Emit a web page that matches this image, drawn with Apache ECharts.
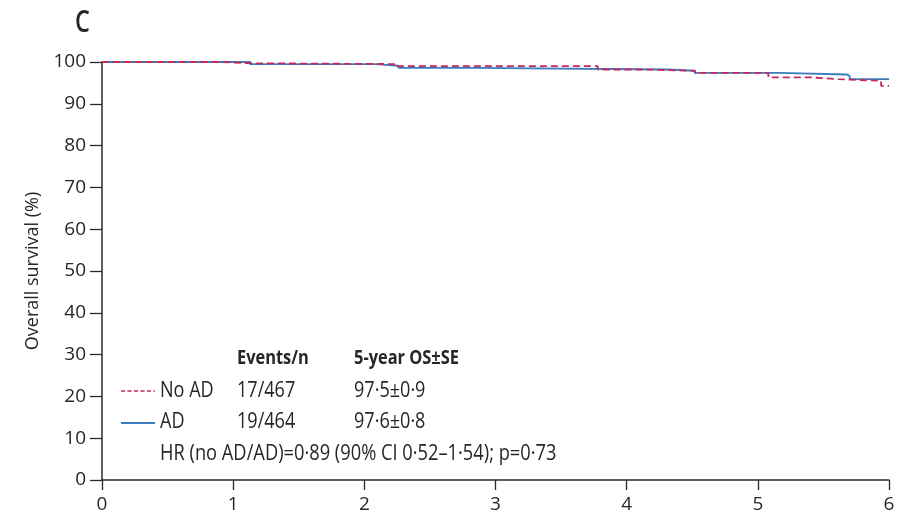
<!DOCTYPE html>
<html><head><meta charset="utf-8">
<script src="https://cdn.jsdelivr.net/npm/echarts@6/dist/echarts.min.js"></script>
<style>html,body{margin:0;padding:0;background:#fff}#c{width:898px;height:514px}</style>
</head><body><div id="c"></div>
<script>
// Kaplan-Meier step points [year, survival %]
var noAD = [[0,100],[0.92,99.7],[1.13,99.5],[2.25,99.0],[3.78,98.2],[4.15,97.9],[4.52,97.4],[5.08,96.3],[5.41,95.9],[5.61,95.5],[5.94,94.3],[6.0,94.3]];
var AD   = [[0,100],[1.13,99.5],[2.09,99.1],[2.26,98.6],[2.84,98.2],[4.31,97.9],[4.52,97.4],[5.16,97.0],[5.68,96.7],[5.70,95.9],[6.0,95.9]];
var seriesNames = ['No AD','AD'];
var xTicks = [0,1,2,3,4,5,6];
var yTicks = [0,10,20,30,40,50,60,70,80,90,100];
var tableHeader = ['Events/n','5-year OS\u00b1SE'];
var tableRows = [['No AD','17/467','97\u00b75\u00b10\u00b79'],['AD','19/464','97\u00b76\u00b10\u00b78']];
var hrText = 'HR (no AD/AD)=0\u00b789 (90% CI 0\u00b752\u20131\u00b754); p=0\u00b773';
var panelLabel = 'C';
var yAxisTitle = 'Overall survival (%)';

var FONT = '"Open Sans", sans-serif';
var TXT = '#262626';
var RED = '#c8285a', BLUE = '#3b7dbf';

var chart = echarts.init(document.getElementById('c'), null, {renderer:'canvas'});
var colX = [160, 237, 354];
var rowY = [358, 391, 422];
var g = [];
function txt(s, x, y, font, sx){
  return {type:'text', x:x, y:y, scaleX:sx, scaleY:1,
    style:{text:s, x:0, y:0, font:font, fill:TXT, textVerticalAlign:'middle'}};
}
g.push(txt(panelLabel, 75, 23, '600 30px '+FONT, 0.78));
g.push(txt(tableHeader[0], colX[1], rowY[0], 'bold 20px '+FONT, 0.82));
g.push(txt(tableHeader[1], colX[2], rowY[0], 'bold 20px '+FONT, 0.82));
tableRows.forEach(function(r, i){
  for (var j=0;j<3;j++) g.push(txt(r[j], colX[j], rowY[i+1], '21px '+FONT, 0.86));
});
g.push(txt(hrText, colX[0], 454, '21px '+FONT, 0.87));
g.push({type:'line', shape:{x1:121,y1:391,x2:155,y2:391}, style:{stroke:RED, lineWidth:1.4, lineDash:[4,2.5]}});
g.push({type:'line', shape:{x1:121,y1:423,x2:155,y2:423}, style:{stroke:BLUE, lineWidth:1.8}});

chart.setOption({
  animation:false,
  grid:{left:102, right:9, top:62, bottom:33, containLabel:false},
  xAxis:{type:'value', min:0, max:6, interval:1,
    axisLine:{show:true, onZero:false, lineStyle:{color:'#2a2a2a', width:1.5}},
    axisTick:{show:true, inside:false, length:10, lineStyle:{color:'#2a2a2a', width:1.3}},
    axisLabel:{color:TXT, fontSize:19, fontFamily:FONT, margin:15, formatter:function(v){return xTicks.indexOf(v)>=0?String(v):'';}},
    splitLine:{show:false}},
  yAxis:{type:'value', min:0, max:100, interval:10,
    name:yAxisTitle, nameLocation:'middle', nameGap:60, nameRotate:90,
    nameTextStyle:{color:TXT, fontSize:18, fontFamily:FONT},
    axisLine:{show:true, onZero:false, lineStyle:{color:'#2a2a2a', width:1.5}},
    axisTick:{show:true, length:12, lineStyle:{color:'#2a2a2a', width:1.3}},
    axisLabel:{color:TXT, fontSize:19, fontFamily:FONT, margin:16, formatter:function(v){return yTicks.indexOf(v)>=0?String(v):'';}},
    splitLine:{show:false}},
  series:[
    {name:seriesNames[1], type:'line', step:'end', data:AD, symbol:'none', z:2,
     lineStyle:{color:BLUE, width:1.9}},
    {name:seriesNames[0], type:'line', step:'end', data:noAD, symbol:'none', z:3,
     lineStyle:{color:RED, width:1.8, type:[7,4]}}
  ],
  graphic:g
});
</script></body></html>
